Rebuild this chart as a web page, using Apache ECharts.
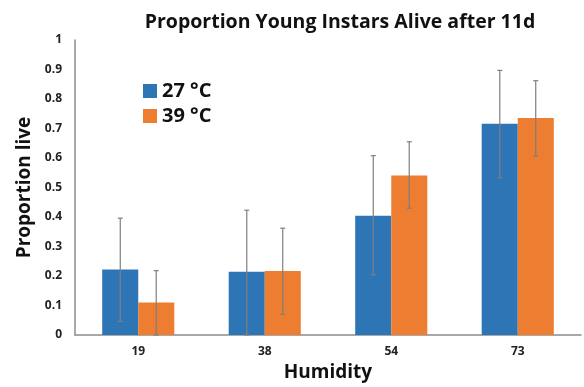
<!DOCTYPE html>
<html><head><meta charset="utf-8">
<script src="https://cdn.jsdelivr.net/npm/echarts@6/dist/echarts.min.js"></script>
<style>html,body{margin:0;padding:0;background:#fff}#c{width:584px;height:387px}</style>
</head><body><div id="c"></div>
<script>
const categories = ['19', '38', '54', '73'];
const seriesNames = ['27 °C', '39 °C'];
const vals27 = [0.222, 0.214, 0.404, 0.716];
const vals39 = [0.110, 0.217, 0.541, 0.736];
const err27Low = [0.046, 0.0, 0.204, 0.533];
const err27High = [0.396, 0.423, 0.608, 0.897];
const err39Low = [0.0, 0.070, 0.430, 0.607];
const err39High = [0.218, 0.362, 0.655, 0.862];
const yTicks = [0, 0.1, 0.2, 0.3, 0.4, 0.5, 0.6, 0.7, 0.8, 0.9, 1];

const chart = echarts.init(document.getElementById('c'));
const font = '"Open Sans", sans-serif';
function errSeries(low, high, offsetIdx) {
  return {
    type: 'custom',
    silent: true,
    z: 10,
    data: categories.map((c, i) => [i, low[i], high[i]]),
    renderItem: function (params, api) {
      const i = api.value(0);
      const band = api.size([1, 0])[0];
      const barW = band * 0.2843;
      const center = api.coord([i, 0])[0];
      const x = center + (offsetIdx === 0 ? -barW / 2 : barW / 2);
      const lo = api.coord([i, api.value(1)])[1];
      const hi = api.coord([i, api.value(2)])[1];
      const cap = 2.5;
      const st = { stroke: '#7f7f7f', lineWidth: 1.2 };
      return { type: 'group', children: [
        { type: 'line', shape: { x1: x, y1: lo, x2: x, y2: hi }, style: st },
        { type: 'line', shape: { x1: x - cap, y1: hi, x2: x + cap, y2: hi }, style: st },
        { type: 'line', shape: { x1: x - cap, y1: lo, x2: x + cap, y2: lo }, style: st }
      ]};
    }
  };
}
chart.setOption({
  animation: false,
  title: { text: 'Proportion Young Instars Alive after 11d', left: 335, top: 7, textAlign: 'center',
    textStyle: { fontFamily: font, fontWeight: 'bold', fontSize: 19.5, color: '#111' } },
  legend: { left: 138, top: 76, orient: 'vertical', itemWidth: 14, itemHeight: 14, itemGap: 5,
    data: seriesNames, icon: 'rect',
    textStyle: { fontFamily: font, fontWeight: 'bold', fontSize: 20, color: '#111' } },
  grid: { left: 75, right: 3, top: 40, bottom: 49 },
  xAxis: { type: 'category', data: categories,
    axisLine: { lineStyle: { color: '#8c8c8c', width: 1.5 } }, axisTick: { show: false },
    axisLabel: { fontFamily: font, fontWeight: 'bold', fontSize: 12, color: '#222', margin: 11 },
    name: 'Humidity', nameLocation: 'middle', nameGap: 28,
    nameTextStyle: { fontFamily: font, fontWeight: 'bold', fontSize: 19, color: '#111' } },
  yAxis: { type: 'value', min: 0, max: 1, interval: 0.1,
    axisLine: { show: true, lineStyle: { color: '#8c8c8c', width: 1.5 } }, axisTick: { show: false },
    splitLine: { show: false },
    axisLabel: { fontFamily: font, fontWeight: 'bold', fontSize: 12, color: '#222', margin: 13,
      formatter: v => String(Math.round(v * 10) / 10) },
    name: 'Proportion live', nameLocation: 'middle', nameGap: 40, nameRotate: 90,
    nameTextStyle: { fontFamily: font, fontWeight: 'bold', fontSize: 19, color: '#111' } },
  series: [
    { name: seriesNames[0], type: 'bar', data: vals27, barGap: '0%', barCategoryGap: '43%',
      itemStyle: { color: '#2e75b6' } },
    { name: seriesNames[1], type: 'bar', data: vals39, barGap: '0%', barCategoryGap: '43%',
      itemStyle: { color: '#ed7d31' } },
    errSeries(err27Low, err27High, 0),
    errSeries(err39Low, err39High, 1)
  ]
});
</script></body></html>
